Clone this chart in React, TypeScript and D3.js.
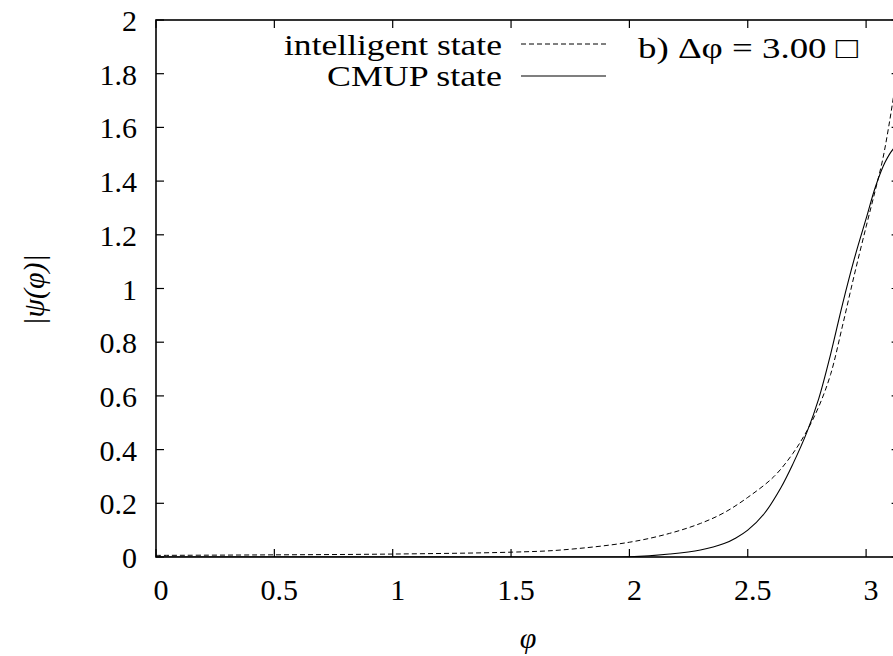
import React, { useEffect, useRef } from "react";
import * as d3 from "d3";

// values
const xTicks = [0, 0.5, 1, 1.5, 2, 2.5, 3];
const yTicks = [0, 0.2, 0.4, 0.6, 0.8, 1, 1.2, 1.4, 1.6, 1.8, 2];

const intelX = [0, 0.5, 1.0, 1.5, 1.71, 2.0, 2.17, 2.3, 2.4, 2.5, 2.61, 2.69, 2.75, 2.8, 2.85, 2.9, 2.95, 3.0, 3.04, 3.07, 3.095, 3.12, 3.1416];
const intelY = [0.006, 0.008, 0.011, 0.018, 0.026, 0.055, 0.088, 0.125, 0.165, 0.222, 0.299, 0.385, 0.47, 0.56, 0.68, 0.86, 1.05, 1.23, 1.37, 1.48, 1.6, 1.74, 1.88];

const cmupX = [0, 1, 1.8, 2.0, 2.17, 2.3, 2.4, 2.45, 2.5, 2.57, 2.64, 2.69, 2.75, 2.8, 2.85, 2.9, 2.95, 3.0, 3.04, 3.08, 3.115, 3.1416];
const cmupY = [0, 0, 0, 0.0005, 0.011, 0.026, 0.05, 0.071, 0.1, 0.162, 0.258, 0.345, 0.465, 0.59, 0.755, 0.94, 1.11, 1.26, 1.38, 1.47, 1.52, 1.54];

const W = 893;
const H = 656;
const FONT = "'Liberation Serif', 'DejaVu Serif', 'Times New Roman', Times, serif";

export default function App() {
  const ref = useRef<SVGSVGElement>(null);

  useEffect(() => {
    const svg = d3.select(ref.current);
    svg.selectAll("*").remove();

    const left = 156, top = 20, bottom = 557;
    const x = d3.scaleLinear().domain([0, Math.PI]).range([left, left + 236.7 * Math.PI]);
    const y = d3.scaleLinear().domain([0, 2]).range([bottom, top]);
    const right = x(Math.PI);

    svg.append("rect").attr("width", W).attr("height", H).attr("fill", "white");

    const clip = svg.append("clipPath").attr("id", "plotclip");
    clip.append("rect").attr("x", left).attr("y", top).attr("width", right - left).attr("height", bottom - top);

    const tickLen = 8;
    const g = svg.append("g").attr("stroke", "black").attr("stroke-width", 1.2);
    xTicks.forEach((t) => {
      g.append("line").attr("x1", x(t)).attr("x2", x(t)).attr("y1", bottom).attr("y2", bottom - tickLen);
      g.append("line").attr("x1", x(t)).attr("x2", x(t)).attr("y1", top).attr("y2", top + tickLen);
    });
    yTicks.forEach((t) => {
      g.append("line").attr("x1", left).attr("x2", left + tickLen).attr("y1", y(t)).attr("y2", y(t));
      g.append("line").attr("x1", right).attr("x2", right - tickLen).attr("y1", y(t)).attr("y2", y(t));
    });
    svg.append("rect")
      .attr("x", left).attr("y", top).attr("width", right - left).attr("height", bottom - top)
      .attr("fill", "none").attr("stroke", "black").attr("stroke-width", 1.6);

    const txt = svg.append("g").style("font-family", FONT).style("font-size", "30px").attr("fill", "black");
    xTicks.forEach((t) => {
      txt.append("text").attr("x", x(t) + 5).attr("y", 600).attr("text-anchor", "middle").text(String(t));
    });
    yTicks.forEach((t) => {
      txt.append("text").attr("x", 137).attr("y", y(t) + 11).attr("text-anchor", "end").text(String(t));
    });

    txt.append("text").attr("x", 528).attr("y", 648).attr("text-anchor", "middle")
      .style("font-style", "italic").text("φ");
    txt.append("text")
      .attr("transform", "translate(44,290) rotate(-90)")
      .attr("text-anchor", "middle")
      .style("font-style", "italic")
      .text("|ψ(φ)|");

    const line = d3.line<[number, number]>()
      .x((d) => x(d[0])).y((d) => y(d[1]))
      .curve(d3.curveCatmullRom.alpha(0.5));

    const plot = svg.append("g").attr("clip-path", "url(#plotclip)");
    plot.append("path")
      .datum(intelX.map((v, i) => [v, intelY[i]] as [number, number]))
      .attr("d", line).attr("fill", "none").attr("stroke", "black")
      .attr("stroke-width", 1).attr("stroke-dasharray", "5,3");
    plot.append("path")
      .datum(cmupX.map((v, i) => [v, cmupY[i]] as [number, number]))
      .attr("d", line).attr("fill", "none").attr("stroke", "black")
      .attr("stroke-width", 1.1);

    // legend
    txt.append("text").attr("x", 502).attr("y", 55).attr("text-anchor", "end")
      .attr("textLength", 218).attr("lengthAdjust", "spacingAndGlyphs").text("intelligent state");
    txt.append("text").attr("x", 502).attr("y", 86).attr("text-anchor", "end")
      .attr("textLength", 175).attr("lengthAdjust", "spacingAndGlyphs").text("CMUP state");
    svg.append("line").attr("x1", 521).attr("x2", 606).attr("y1", 44).attr("y2", 44)
      .attr("stroke", "black").attr("stroke-width", 1).attr("stroke-dasharray", "5,3");
    svg.append("line").attr("x1", 521).attr("x2", 606).attr("y1", 76).attr("y2", 76)
      .attr("stroke", "black").attr("stroke-width", 1.1);

    txt.append("text").attr("x", 638).attr("y", 58)
      .attr("textLength", 220).attr("lengthAdjust", "spacingAndGlyphs")
      .text("b) Δφ = 3.00 □");
  }, []);

  return (
    <svg
      ref={ref}
      width={W}
      height={H}
      style={{ position: "absolute", left: 0, top: 0 }}
    />
  );
}
